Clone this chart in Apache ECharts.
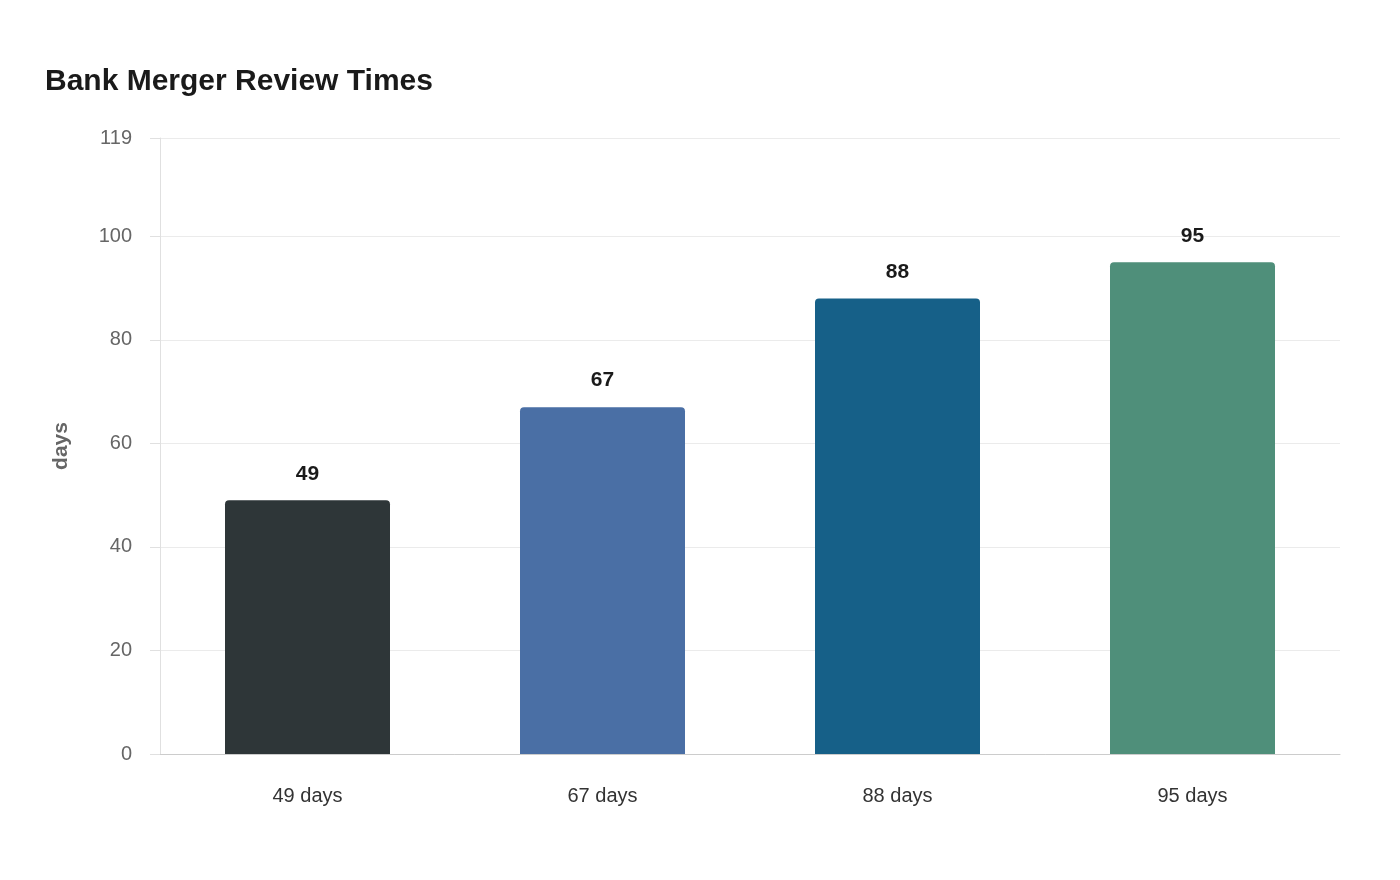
<!DOCTYPE html>
<html>
<head>
<meta charset="utf-8">
<script src="https://cdn.jsdelivr.net/npm/echarts@6/dist/echarts.min.js"></script>
<style>html,body{margin:0;padding:0;background:#fff}#container{width:1400px;height:880px}</style>
</head>
<body>
<div id="container"></div>
<script>
var categories = ["49 days", "67 days", "88 days", "95 days"];
var values = [49, 67, 88, 95];
var colors = ["#2e3638", "#4a6fa5", "#166088", "#4f8f7a"];
var yMax = 119;

var myChart = echarts.init(document.getElementById("container"));
myChart.setOption({
    textStyle: { fontFamily: "Liberation Sans, Arial, sans-serif" },
    title: {
        text: "Bank Merger Review Times",
        left: 40,
        top: 62,
        textStyle: { fontSize: 30, fontWeight: "bold", color: "#1a1a1a" }
    },
    grid: { left: 160, right: 60, top: 138, bottom: 126 },
    xAxis: {
        type: "category",
        data: categories,
        axisTick: { show: false },
        axisLine: { lineStyle: { color: "#cccccc" } },
        axisLabel: { color: "#333333", fontSize: 20, margin: 32 }
    },
    yAxis: {
        type: "value",
        min: 0,
        max: yMax,
        interval: 20,
        name: "days",
        nameLocation: "middle",
        nameGap: 88,
        nameTextStyle: { color: "#666666", fontSize: 21, fontWeight: "bold" },
        axisLine: { show: true, lineStyle: { color: "#e0e0e0" } },
        axisTick: { show: true, length: 10, inside: false, lineStyle: { color: "#e0e0e0" } },
        axisLabel: { color: "#666666", fontSize: 20, margin: 28, showMaxLabel: true },
        splitLine: { lineStyle: { color: "#ebebeb" } }
    },
    series: [{
        type: "bar",
        barWidth: 165,
        data: values.map(function (v, i) {
            return { value: v, itemStyle: { color: colors[i], borderRadius: [4, 4, 0, 0] } };
        }),
        label: {
            show: true,
            position: "top",
            distance: 16,
            color: "#1a1a1a",
            fontSize: 21,
            fontWeight: "bold"
        }
    }]
});
</script>
</body>
</html>
